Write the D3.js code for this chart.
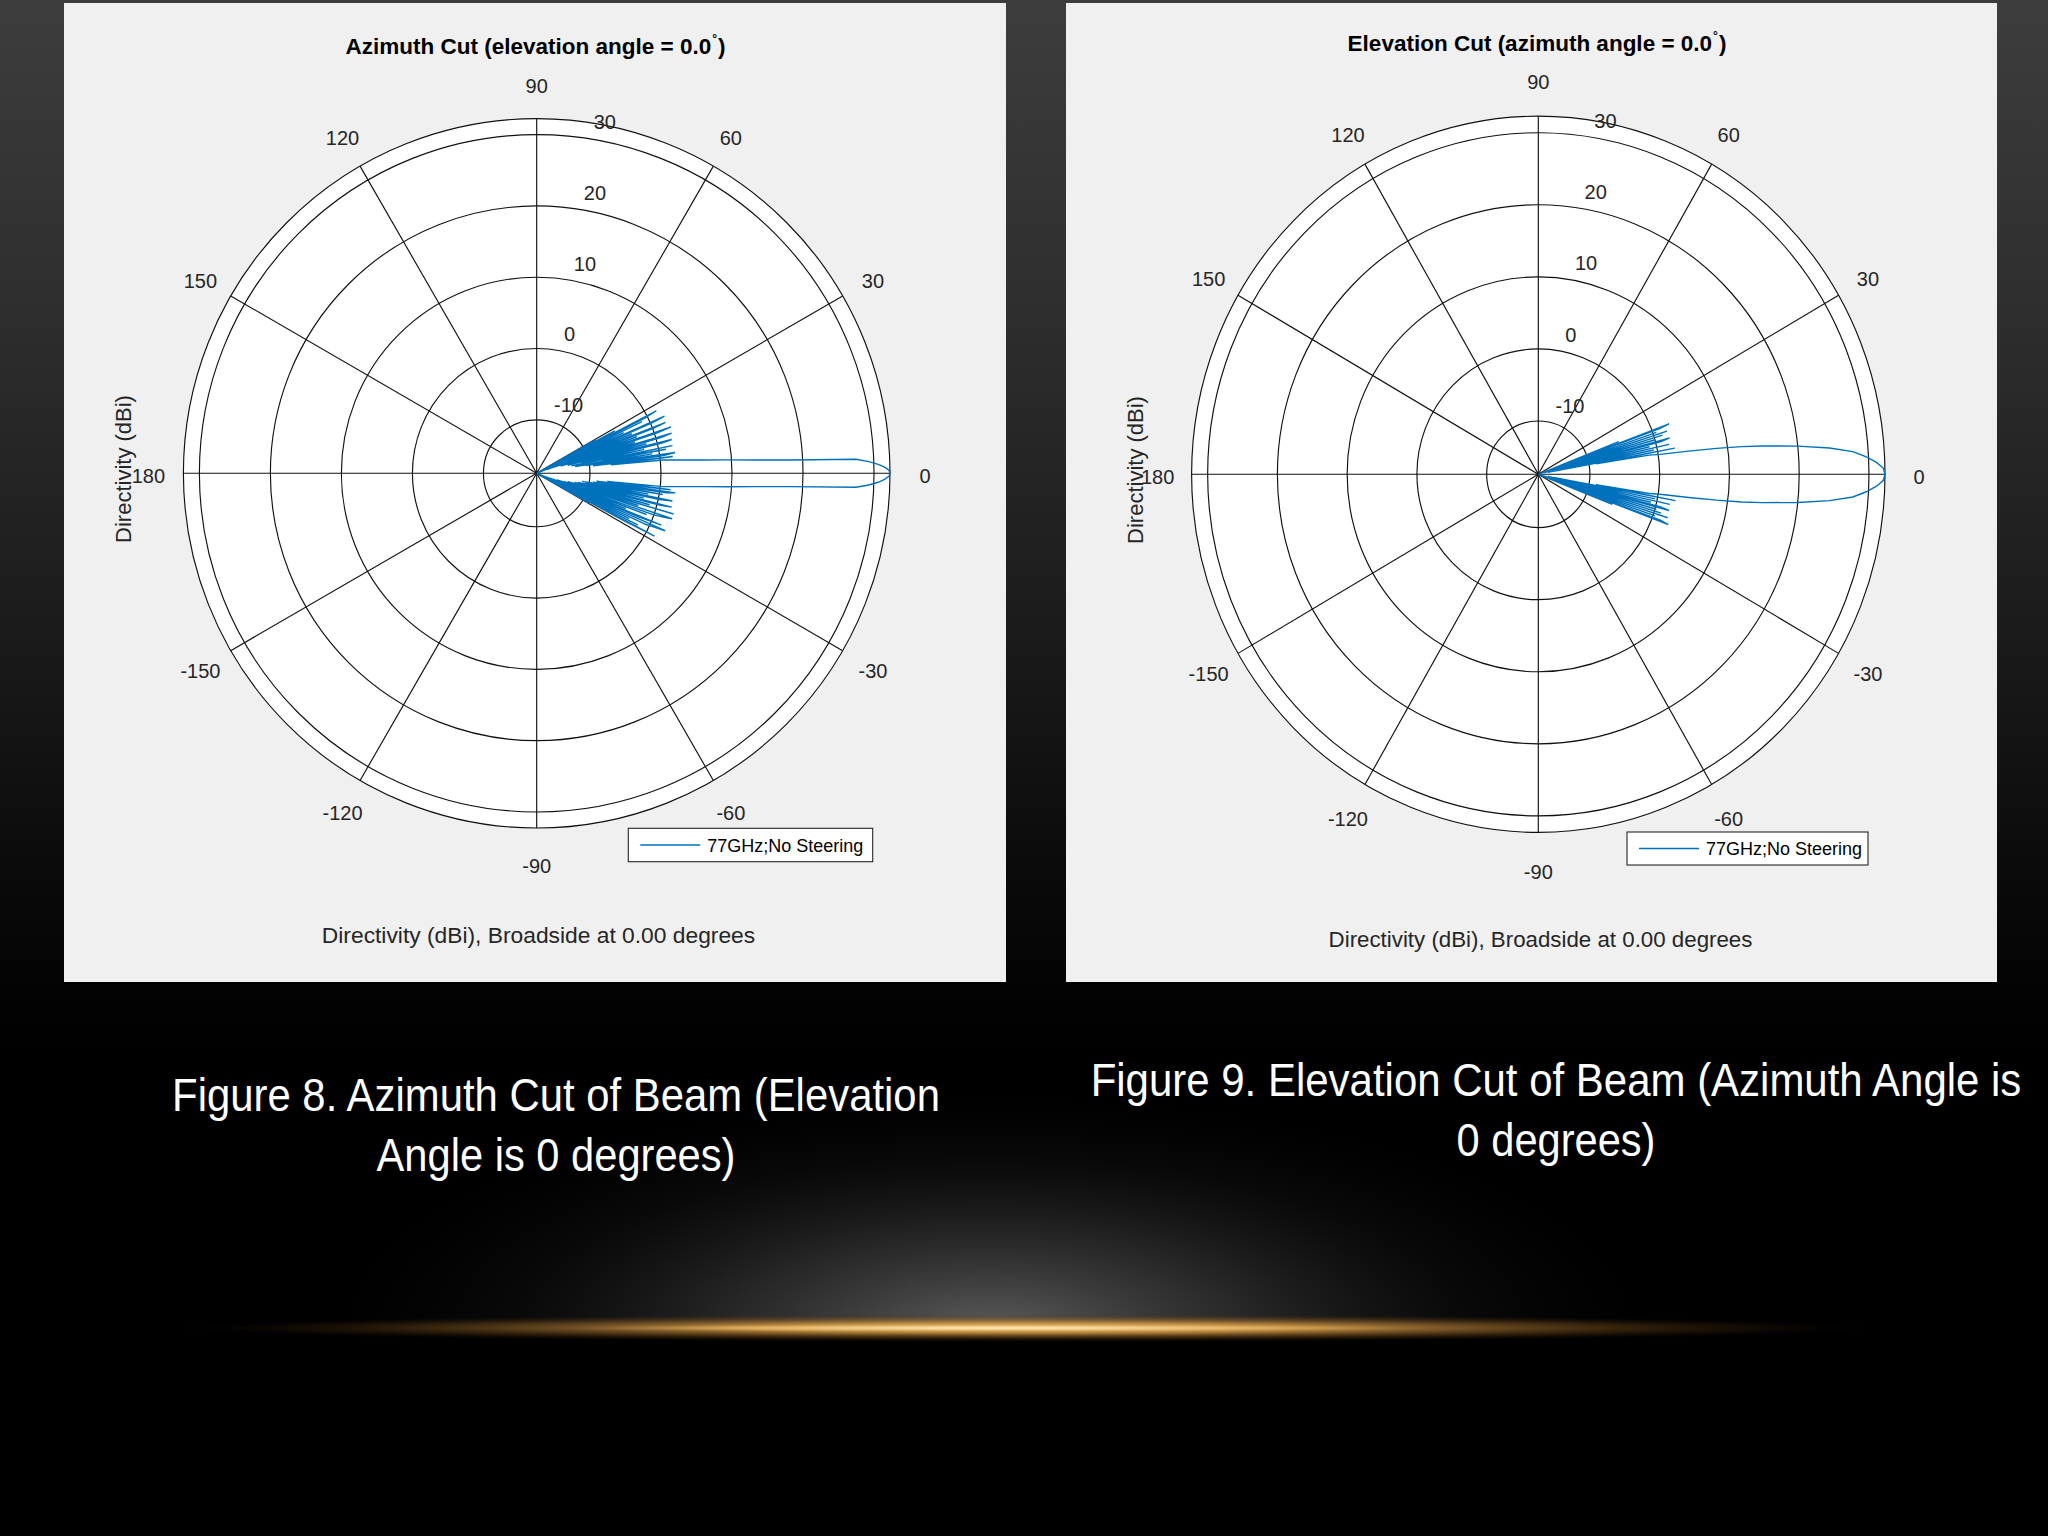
<!DOCTYPE html>
<html>
<head>
<meta charset="utf-8">
<script src="https://cdn.jsdelivr.net/npm/d3@7"></script>
<style>
  html, body { margin: 0; padding: 0; background: #000; }
  svg { display: block; }
</style>
</head>
<body>
<script>
// ---------------- DATA ----------------
const angleTicks = [0, 30, 60, 90, 120, 150, 180, -150, -120, -90, -60, -30];
const angleTickLabels = ["0", "30", "60", "90", "120", "150", "180", "-150", "-120", "-90", "-60", "-30"];
const magTicks = [-10, 0, 10, 20, 30];
const magTickLabels = ["-10", "0", "10", "20", "30"];
const azLimits = [-17.5, 32.25];
const elLimits = [-17.4, 32.3];

// Azimuth cut (deg, dBi)
const azAngles = [-180, -31, -30, -29.5, -29, -28.5, -28, -27.5, -27, -26.5, -26, -25.5, -25, -24.5, -24,
  -23.5, -23, -22.5, -22, -21.5, -21, -20.5, -20, -19.5, -19, -18.5, -18, -17.5, -17, -16.5, -16,
  -15.5, -15, -14.5, -14, -13.5, -13, -12.5, -12, -11.5, -11, -10.5, -10, -9.5, -9, -8.5, -8,
  -7.5, -7, -6.5, -6, -5.5, -5, -4.5, -4, -3.5, -3, -2.5, -2, -1.5, -1, -0.5, 0,
  0.5, 1, 1.5, 2, 2.5, 3, 3.5, 4, 4.5, 5, 5.5, 6, 6.5, 7, 7.5, 8, 8.5, 9, 9.5, 10,
  10.5, 11, 11.5, 12, 12.5, 13, 13.5, 14, 14.5, 15, 15.5, 16, 16.5, 17, 17.5, 18, 18.5, 19,
  19.5, 20, 20.5, 21, 21.5, 22, 22.5, 23, 23.5, 24, 24.5, 25, 25.5, 26, 26.5, 27, 27.5, 28,
  28.5, 29, 29.5, 30, 31, 180];
const azDirectivity = [-40, -30, -24, -9, -21, -4, 1.3, -20, -1.5, -19, -3, -18.5, -0.5, 0.8, 2.3,
  -18, -2, 1.5, -17, -4, -16, -1, -15.5, 0.0, 1.5, 2.6, -14.5, -2.5, -13.5, 2.6, -12,
  -1, -13, 0.5, 2.1, -12, -2, -11.5, 0.2, 2.0, -10.5, -1.5, -11, 0.5, -9.5, 1.0, 2.2,
  -9, 1.5, -7.5, 0.4, 2.0, 4.0, 6.4, 9.4, 13.2, 18.3, 27.5, 29.3, 30.6, 31.5, 32.1, 32.25,
  32.1, 31.5, 30.6, 29.3, 27.5, 18.3, 13.2, 9.4, 6.4, 4.0, 2.0, 0.4, -7.0, 1.8, -9.5, 0.5, 2.2, -10.5, -1.0, -12.0,
  1.0, -8.0, 2.0, -12.5, -2.0, -11.0, 0.5, 2.1, -13.0, -1.5, -12.0, 0.8, 2.3, -14.0, -3.0, -13.5, 0.5, 2.5,
  -15.0, -2.5, -16.0, 0.0, 2.0, -17.0, -3.0, -18.0, 0.3, 2.2, -18.0, -4.0, -19.0, -1.0, -20.0, -0.5, 1.5, -20.0,
  -5.0, -22.0, -8.0, -25.0, -30, -40];

// Elevation cut (deg, dBi)
const elAngles = [-180, -23, -22, -21.5, -21, -20.5, -20, -19.5, -19, -18.5, -18, -17.5, -17, -16.5, -16,
  -15.5, -15, -14.5, -14, -13.5, -13, -12.5, -12, -11.5, -11, -10.5, -10, -9.5, -9, -8.5, -8,
  -7.5, -7, -6, -5, -4, -3, -2, -1, 0, 1, 2, 3, 4, 5, 6, 7, 7.5, 8, 8.5, 9, 9.5, 10,
  10.5, 11, 11.5, 12, 12.5, 13, 13.5, 14, 14.5, 15, 15.5, 16, 16.5, 17, 17.5, 18, 18.5, 19,
  19.5, 20, 20.5, 21, 21.5, 22, 23, 180];
const elDirectivity = [-40, -30, -25, -6, -18, 2.5, 1.2, -17, 0.3, -17, 2.1, -16, 1.0, -16.5, 0.2,
  -16, 2.0, 0.6, -16, -0.8, -15.5, 1.9, -16, -0.3, -15, 2.6, -9, -1.3, 0.24, 4.4, 8.4,
  12.0, 14.9, 20.0, 24.5, 27.8, 29.6, 31.06, 32.06, 32.3, 32.06, 31.06, 29.6, 27.8, 24.5, 20.0, 14.9, 12.0, 8.4, 4.4, 0.24, -1.3, -9,
  2.5, -15, -0.5, -16, 1.8, -15.5, -1, -16, 0.8, 2.1, -16, 0, -16.5, 1.2, -16, 2.0, -17, 0.5,
  -17, 1.0, 2.6, -18, -5, -25, -30, -40];

const legendLabel = "77GHz;No Steering";
const azTitle = "Azimuth Cut (elevation angle = 0.0";
const elTitle = "Elevation Cut (azimuth angle = 0.0";
const radialLabel = "Directivity (dBi)";
const bottomLabel = "Directivity (dBi), Broadside at 0.00 degrees";
const captionLeft = ["Figure 8. Azimuth Cut of Beam (Elevation", "Angle is 0 degrees)"];
const captionRight = ["Figure 9. Elevation Cut of Beam (Azimuth Angle is", "0 degrees)"];

// ---------------- DRAWING ----------------
const W = 2048, H = 1536;
const svg = d3.select("body").append("svg").attr("width", W).attr("height", H);
const defs = svg.append("defs");

const bg = defs.append("linearGradient").attr("id", "bgGrad").attr("x1", 0).attr("y1", 0).attr("x2", 0).attr("y2", 1);
[[0, "#3d3d3d"], [0.2, "#2e2e2e"], [0.42, "#1a1a1a"], [0.58, "#090909"], [0.68, "#000"], [1, "#000"]]
  .forEach(([o, c]) => bg.append("stop").attr("offset", o).attr("stop-color", c));

const haze = defs.append("radialGradient").attr("id", "haze");
[[0, "#6e6e6e", 0.85], [0.4, "#484848", 0.55], [0.75, "#2a2a2a", 0.2], [1, "#202020", 0]]
  .forEach(([o, c, a]) => haze.append("stop").attr("offset", o).attr("stop-color", c).attr("stop-opacity", a));

const streak = defs.append("radialGradient").attr("id", "streak");
[[0, "#f4cf86", 1], [0.35, "#d29a45", 0.85], [0.7, "#8a5a20", 0.4], [1, "#3a2508", 0]]
  .forEach(([o, c, a]) => streak.append("stop").attr("offset", o).attr("stop-color", c).attr("stop-opacity", a));
const core = defs.append("radialGradient").attr("id", "core");
[[0, "#fff0c8", 1], [0.6, "#f0c070", 0.6], [1, "#c08a3c", 0]]
  .forEach(([o, c, a]) => core.append("stop").attr("offset", o).attr("stop-color", c).attr("stop-opacity", a));

defs.append("clipPath").attr("id", "hazeClip").append("rect").attr("x", 0).attr("y", 0).attr("width", W).attr("height", 1330);

svg.append("rect").attr("width", W).attr("height", H).attr("fill", "url(#bgGrad)");
svg.append("ellipse").attr("cx", 990).attr("cy", 1330).attr("rx", 640).attr("ry", 230)
  .attr("fill", "url(#haze)").attr("clip-path", "url(#hazeClip)");
svg.append("ellipse").attr("cx", 1025).attr("cy", 1328).attr("rx", 840).attr("ry", 14).attr("fill", "url(#streak)");
svg.append("ellipse").attr("cx", 1000).attr("cy", 1328).attr("rx", 430).attr("ry", 4).attr("fill", "url(#core)");

const FONT = "'Liberation Sans', Arial, Helvetica, sans-serif";
const GRID = "#111";

function drawPanel(cfg) {
  svg.append("rect").attr("x", cfg.panel[0]).attr("y", cfg.panel[1])
    .attr("width", cfg.panel[2]).attr("height", cfg.panel[3]).attr("fill", "#f0f0f0");

  const g = svg.append("g").attr("transform", `translate(${cfg.cx},${cfg.cy})`);
  // grid + data drawn in a group that carries the slight vertical stretch of the picture
  const gs = g.append("g").attr("transform", `scale(1,${cfg.sy})`);
  const r = d3.scaleLinear().domain(cfg.limits).range([0, cfg.R]).clamp(true);
  const toRad = d => d * Math.PI / 180;

  gs.append("circle").attr("r", cfg.R).attr("fill", "#fff");
  gs.selectAll("circle.ring").data(magTicks).join("circle").attr("class", "ring")
    .attr("r", d => r(d)).attr("fill", "none").attr("stroke", GRID).attr("stroke-width", 1.15)
    .attr("vector-effect", "non-scaling-stroke");
  gs.append("circle").attr("r", cfg.R).attr("fill", "none").attr("stroke", GRID).attr("stroke-width", 1.15)
    .attr("vector-effect", "non-scaling-stroke");
  gs.selectAll("line.spoke").data(angleTicks).join("line").attr("class", "spoke")
    .attr("x1", 0).attr("y1", 0)
    .attr("x2", d => cfg.R * Math.cos(toRad(d)))
    .attr("y2", d => -cfg.R * Math.sin(toRad(d)))
    .attr("stroke", GRID).attr("stroke-width", 1.15).attr("vector-effect", "non-scaling-stroke");

  // pattern
  const pts = cfg.angles.map((a, i) => [a, cfg.values[i]]);
  const line = d3.lineRadial()
    .angle(d => Math.PI / 2 - toRad(d[0]))
    .radius(d => r(d[1]));
  gs.append("path").attr("d", line(pts)).attr("fill", "none")
    .attr("stroke", "#0072BD").attr("stroke-width", 1.4).attr("stroke-linejoin", "miter")
    .attr("vector-effect", "non-scaling-stroke");

  // angle labels
  const RLx = cfg.R + cfg.labelGap, RLy = cfg.R * cfg.sy + cfg.labelGapY;
  g.selectAll("text.ang").data(angleTicks).join("text").attr("class", "ang")
    .attr("x", d => RLx * Math.cos(toRad(d)))
    .attr("y", d => -RLy * Math.sin(toRad(d)) + 9.5)
    .attr("text-anchor", "middle").attr("font-family", FONT).attr("font-size", 20).attr("fill", "#262626")
    .text((d, i) => angleTickLabels[i]);

  // magnitude labels
  const ma = toRad(82);
  g.selectAll("text.mag").data(magTicks).join("text").attr("class", "mag")
    .attr("x", d => r(d) * Math.cos(ma) + 10)
    .attr("y", d => -(r(d) * Math.sin(ma) * cfg.sy + 15.5) + 7)
    .attr("text-anchor", "start").attr("font-family", FONT).attr("font-size", 20).attr("fill", "#262626")
    .text((d, i) => magTickLabels[i]);

  // title
  const t = svg.append("text").attr("x", cfg.titleX).attr("y", cfg.titleY)
    .attr("text-anchor", "middle").attr("font-family", FONT).attr("font-weight", "bold")
    .attr("font-size", 22.5).attr("fill", "#000");
  t.append("tspan").text(cfg.title);
  t.append("tspan").attr("font-size", 12).attr("dy", -11).attr("dx", 1).text("°");
  t.append("tspan").attr("dy", 11).attr("dx", 1).text(")");

  // y label
  svg.append("text").attr("transform", `translate(${cfg.yLabelX},${cfg.yLabelY}) rotate(-90)`)
    .attr("text-anchor", "middle").attr("font-family", FONT).attr("font-size", 22).attr("fill", "#262626")
    .text(radialLabel);

  // bottom label
  svg.append("text").attr("x", cfg.xLabelX).attr("y", cfg.xLabelY)
    .attr("text-anchor", "middle").attr("font-family", FONT).attr("font-size", cfg.xLabelSize).attr("fill", "#262626")
    .text(bottomLabel);

  // legend
  const [lx, ly, lw, lh] = cfg.legend;
  svg.append("rect").attr("x", lx).attr("y", ly).attr("width", lw).attr("height", lh)
    .attr("fill", "#fff").attr("stroke", "#262626").attr("stroke-width", 1.1);
  svg.append("line").attr("x1", lx + 12).attr("x2", lx + 72).attr("y1", ly + lh / 2).attr("y2", ly + lh / 2)
    .attr("stroke", "#0072BD").attr("stroke-width", 1.4);
  svg.append("text").attr("x", lx + 79).attr("y", ly + lh / 2 + 6.5)
    .attr("font-family", FONT).attr("font-size", 18).attr("fill", "#000").text(legendLabel);

  // caption (condensed by horizontal scaling)
  cfg.caption.forEach((txt, i) => {
    const c = svg.append("text").attr("x", 0).attr("y", 0)
      .attr("text-anchor", "middle")
      .attr("font-family", FONT)
      .attr("font-size", 47).attr("fill", "#fff")
      .text(txt);
    const nat = c.node().getComputedTextLength();
    c.attr("transform", `translate(${cfg.capX},${cfg.capY[i]}) scale(${cfg.capW[i] / nat},1)`);
  });
}

drawPanel({
  panel: [64, 3, 942, 979], cx: 536.7, cy: 473.3, R: 353.3, sy: 1.004, limits: azLimits,
  labelGap: 35, labelGapY: 35,
  angles: azAngles, values: azDirectivity,
  title: azTitle, titleX: 535.5, titleY: 53.5,
  yLabelX: 131, yLabelY: 469, xLabelX: 538.5, xLabelY: 942.5, xLabelSize: 22.8,
  legend: [628.3, 828.3, 244.4, 33.4],
  caption: captionLeft, capX: 556, capY: [1111, 1171], capW: [768, 359]
});

drawPanel({
  panel: [1066, 3, 931, 979], cx: 1538.3, cy: 474.3, R: 346.7, sy: 1.033, limits: elLimits,
  labelGap: 34, labelGapY: 37,
  angles: elAngles, values: elDirectivity,
  title: elTitle, titleX: 1537, titleY: 51,
  yLabelX: 1143, yLabelY: 470, xLabelX: 1540.5, xLabelY: 946.5, xLabelSize: 22.3,
  legend: [1627, 832, 241, 33],
  caption: captionRight, capX: 1556, capY: [1096, 1156], capW: [931, 199]
});
</script>
</body>
</html>
